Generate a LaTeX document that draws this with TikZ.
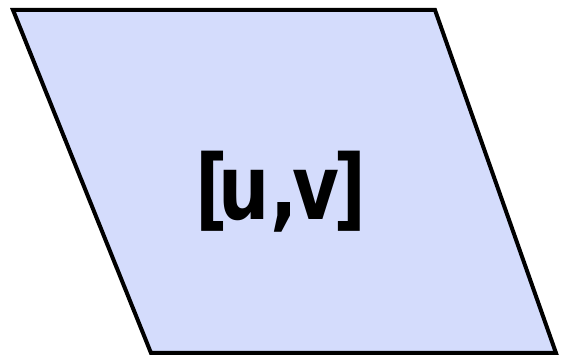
\documentclass[tikz,border=0pt]{standalone}
\usepackage{fontspec}
\setmainfont{DejaVu Sans}
\definecolor{fillblue}{RGB}{212,220,252}
\begin{document}
\begin{tikzpicture}[x=1pt,y=1pt,
  shapeline/.style={draw=black,line width=4pt,fill=fillblue,line join=miter},
  label/.style={font=\fontsize{72}{72}\selectfont\bfseries,inner sep=0pt,yscale=1.25}]
\useasboundingbox (0,0) rectangle (568,356);
\coordinate (tl) at (13,346);
\coordinate (tr) at (435,346);
\coordinate (br) at (556,3);
\coordinate (bl) at (151,3);
\draw[shapeline] (tl) -- (tr) -- (br) -- (bl) -- cycle;
\node[label] (t) at (281,164) {[\kern-10pt u,\kern-4.5pt v\kern-6.5pt]};
\end{tikzpicture}
\end{document}
